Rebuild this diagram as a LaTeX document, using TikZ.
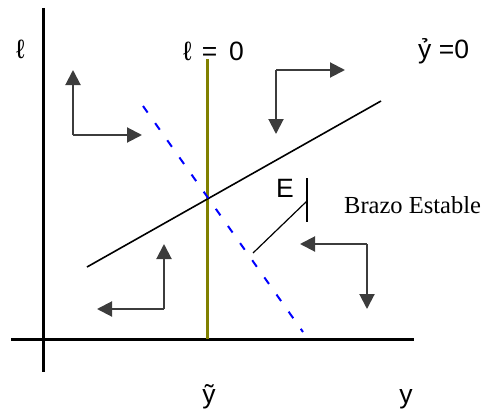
\documentclass[tikz,border=0pt]{standalone}
\usepackage{fontspec}
\setmainfont{Liberation Sans}
\newfontfamily\serifx{Liberation Serif}
\usetikzlibrary{arrows.meta}
\definecolor{arrgray}{HTML}{3C3C3C}
\definecolor{olivel}{HTML}{808000}
\tikzset{
  axis/.style={line width=3pt,black},
  flowarrow/.style={line width=2pt,arrgray,-{Triangle[length=15pt,width=15pt]}},
  lbl/.style={font=\fontsize{26.5}{31}\selectfont,inner sep=0pt},
  serlbl/.style={font=\serifx\fontsize{24.5}{29}\selectfont,inner sep=0pt},
}
\begin{document}
\begin{tikzpicture}[x=1pt,y=-1pt]
\useasboundingbox (0,0) rectangle (486,412);
% axes
\coordinate (vtop) at (43,8);
\coordinate (vbot) at (43,372);
\coordinate (hleft) at (11,339);
\coordinate (hright) at (414,339);
\draw[axis] (vtop) -- (vbot);
\draw[axis] (hleft) -- (hright);
% l = 0 line
\coordinate (otop) at (207,59);
\coordinate (obot) at (207,339);
\draw[line width=3pt,olivel] (otop) -- (obot);
% ydot = 0 line
\coordinate (bA) at (87,267);
\coordinate (bB) at (381,101);
\draw[line width=1.6pt,black] (bA) -- (bB);
% blue dashed
\coordinate (dA) at (143,106);
\coordinate (dB) at (303,332);
\draw[line width=2pt,blue,dash pattern=on 8pt off 13pt] (dA) -- (dB);
% arrows group 1
\coordinate (c1) at (73,135);
\coordinate (c1u) at (73,70);
\coordinate (c1r) at (142,135);
\draw[flowarrow] (c1) -- (c1u);
\draw[flowarrow] (c1) -- (c1r);
% group 2
\coordinate (c2) at (276,70);
\coordinate (c2r) at (345,70);
\coordinate (c2d) at (276,134);
\draw[flowarrow] (c2) -- (c2r);
\draw[flowarrow] (c2) -- (c2d);
% group 3
\coordinate (c3) at (164,309);
\coordinate (c3u) at (164,244);
\coordinate (c3l) at (97,309);
\draw[flowarrow] (c3) -- (c3u);
\draw[flowarrow] (c3) -- (c3l);
% group 4
\coordinate (c4) at (367,244);
\coordinate (c4l) at (300,244);
\coordinate (c4d) at (367,309);
\draw[flowarrow] (c4) -- (c4l);
\draw[flowarrow] (c4) -- (c4d);
% Brazo estable pointer
\coordinate (tkT) at (307,178);
\coordinate (tkB) at (307,222);
\coordinate (tkM) at (307,201);
\coordinate (tkE) at (253,253);
\draw[line width=1.2pt,black] (tkT) -- (tkB);
\draw[line width=1.2pt,black] (tkM) -- (tkE);
% labels
\node[lbl,anchor=base west] (lax) at (16,59) {ℓ};
\node[lbl,anchor=base west] (l0) at (183,60) {ℓ\kern10pt=\kern12pt0};
\node[lbl,anchor=base west] (y0) at (418,59) {ỷ =0};
\node[lbl,anchor=base] (yt) at (209,403) {ỹ};
\node[lbl,anchor=base] (yx) at (406,403) {y};
\node[lbl,anchor=base west] (E) at (276,197) {E};
\node[serlbl,anchor=base west] (be) at (344,213) {Brazo Estable};
\end{tikzpicture}
\end{document}
